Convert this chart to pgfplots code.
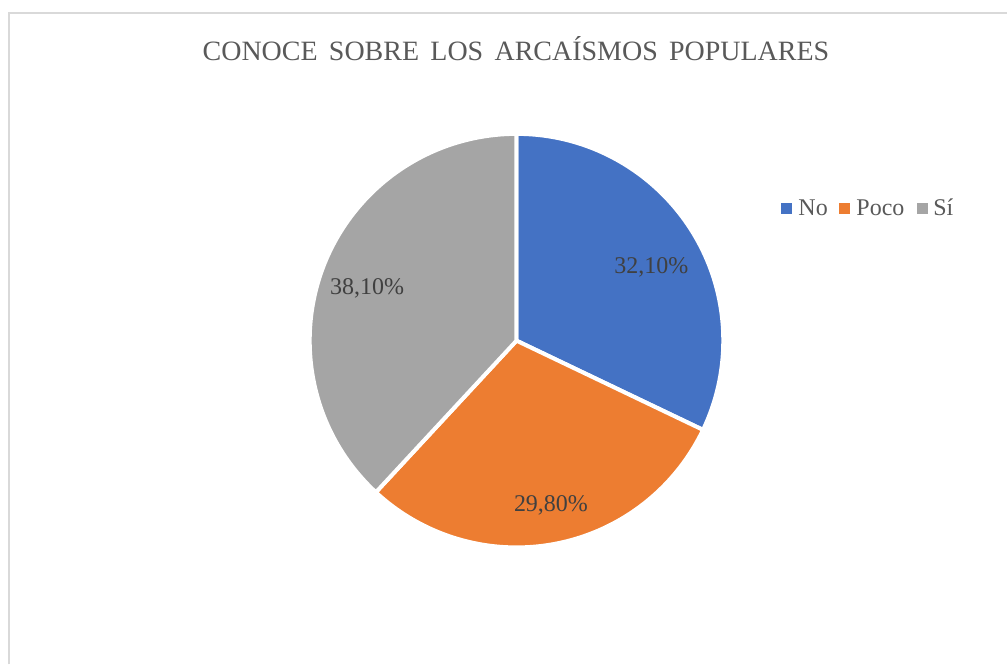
\documentclass[border=0pt]{standalone}
\usepackage{fontspec}
\setmainfont{Liberation Serif}
\usepackage{pgfplots}
\usepackage{pgfplotstable}
\pgfplotsset{compat=1.18}

\definecolor{cNo}{HTML}{4472C4}
\definecolor{cPoco}{HTML}{ED7D31}
\definecolor{cSi}{HTML}{A5A5A5}
\definecolor{txt}{HTML}{595959}
\definecolor{lbl}{HTML}{404040}
\definecolor{frame}{HTML}{D9D9D9}

% shares in percent
\pgfplotstableread{
label value
No 32.1
Poco 29.8
Si 38.1
}\piedata

\pgfplotstablegetelem{0}{value}\of\piedata \let\vA\pgfplotsretval
\pgfplotstablegetelem{1}{value}\of\piedata \let\vB\pgfplotsretval
\pgfplotstablegetelem{2}{value}\of\piedata \let\vC\pgfplotsretval
% slices run clockwise from 12 o'clock
\pgfmathsetmacro{\aA}{90}
\pgfmathsetmacro{\aB}{\aA-3.6*\vA}
\pgfmathsetmacro{\aC}{\aB-3.6*\vB}
\pgfmathsetmacro{\aD}{\aC-3.6*\vC}
\def\R{155.25pt}% 207 px
\newcommand{\tsp}{\hspace{8.5pt}}

\begin{document}
\begin{tikzpicture}
\begin{axis}[
  scale only axis, width=756pt, height=498.75pt,
  xmin=0, xmax=1008, ymin=0, ymax=665, y dir=reverse,
  hide axis, clip=false,
]
\path (axis cs:0,0) rectangle (axis cs:1008,665);
% chart frame (right and bottom edges are cut off)
\draw[frame, line width=1.5pt] (axis cs:9.5,665) -- (axis cs:9.5,13.5) -- (axis cs:1008,13.5);

\node[anchor=base, text=txt, font=\fontsize{21}{24}\selectfont]
  at (axis cs:516.5,61) {CONOCE\tsp SOBRE\tsp LOS\tsp ARCAÍSMOS\tsp POPULARES};

% slices
\fill[cNo, draw=white, line width=3pt]
  (axis cs:517,341) -- ++(\aA:\R) arc[start angle=\aA, end angle=\aB, radius=\R] -- cycle;
\fill[cPoco, draw=white, line width=3pt]
  (axis cs:517,341) -- ++(\aB:\R) arc[start angle=\aB, end angle=\aC, radius=\R] -- cycle;
\fill[cSi, draw=white, line width=3pt]
  (axis cs:517,341) -- ++(\aC:\R) arc[start angle=\aC, end angle=\aD, radius=\R] -- cycle;

% data labels
\begin{scope}[every node/.style={anchor=base, text=lbl, font=\fontsize{18}{21}\selectfont}]
\node at (axis cs:652,274) {32,10\%};
\node at (axis cs:551.5,512) {29,80\%};
\node at (axis cs:367.5,294.5) {38,10\%};
\end{scope}

% legend
\fill[cNo] (axis cs:782,203) rectangle (axis cs:793,214);
\fill[cPoco] (axis cs:840,203) rectangle (axis cs:851,214);
\fill[cSi] (axis cs:918,203) rectangle (axis cs:929,214);
\begin{scope}[every node/.style={anchor=base west, inner sep=0pt, text=txt, font=\fontsize{18}{21}\selectfont}]
\node at (axis cs:799,216) {No};
\node at (axis cs:857,216) {Poco};
\node at (axis cs:934,216) {Sí};
\end{scope}
\end{axis}
\end{tikzpicture}
\end{document}
